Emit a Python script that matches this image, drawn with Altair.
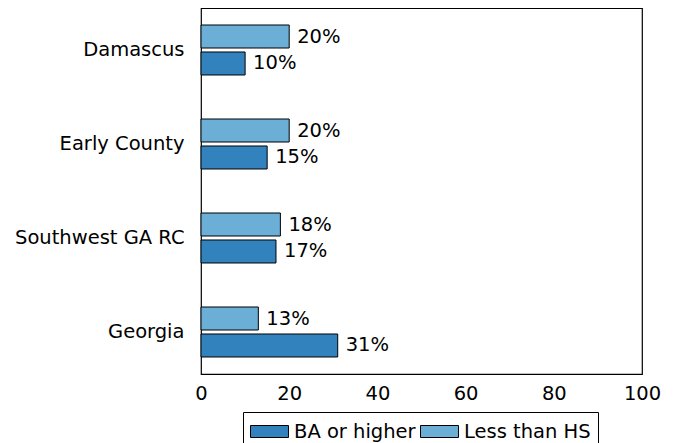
import altair as alt
import pandas as pd

regions = ["Damascus", "Early County", "Southwest GA RC", "Georgia"]
ba_or_higher = [10, 15, 17, 31]
less_than_hs = [20, 20, 18, 13]
series = ["BA or higher", "Less than HS"]
colors = ["#3182bd", "#6baed6"]

rows = []
for r, b, l in zip(regions, ba_or_higher, less_than_hs):
    rows.append({"region": r, "series": series[0], "value": b})
    rows.append({"region": r, "series": series[1], "value": l})
df = pd.DataFrame(rows)

FONT = "DejaVu Sans"
FS = 19.5

y_enc = alt.Y("region:N", sort=regions,
              scale=alt.Scale(range=[-5, 371], paddingInner=0, paddingOuter=0),
              axis=alt.Axis(title=None, ticks=False, domain=False, labelPadding=17,
                            labelFontSize=FS, labelColor="black", labelFont=FONT))
yoff_enc = alt.YOffset("series:N", sort=["Less than HS", "BA or higher"],
                       scale=alt.Scale(paddingInner=0.148, paddingOuter=0.815))
x_enc = alt.X("value:Q", scale=alt.Scale(domain=[0, 100], nice=False),
              axis=alt.Axis(title=None, values=[0, 20, 40, 60, 80, 100], grid=False,
                            ticks=False, domain=False, labelPadding=10,
                            labelFontSize=FS, labelColor="black", labelFont=FONT,
                            labelFlush=False))

sym_path = "M-1.583,-0.5L1.583,-0.5L1.583,0.5L-1.583,0.5Z"

bars = alt.Chart(df).mark_bar(stroke="black", strokeWidth=1).encode(
    x=x_enc,
    y=y_enc,
    yOffset=yoff_enc,
    color=alt.Color("series:N", sort=series,
                    scale=alt.Scale(domain=series, range=colors),
                    legend=alt.Legend(title=None, orient="none", legendX=42, legendY=404,
                                      direction="horizontal", columns=2,
                                      symbolType=sym_path, symbolSize=576,
                                      symbolStrokeColor="black", symbolStrokeWidth=1,
                                      symbolOffset=7, labelOffset=12,
                                      columnPadding=2,
                                      labelFontSize=FS, labelFont=FONT, labelColor="black",
                                      strokeColor="black", fillColor="white", padding=7)),
)

labels = alt.Chart(df).transform_calculate(
    label="datum.value + '%'"
).mark_text(align="left", baseline="middle", dx=8, fontSize=FS, font=FONT, color="black").encode(
    x="value:Q",
    y=alt.Y("region:N", sort=regions),
    yOffset=alt.YOffset("series:N", sort=["Less than HS", "BA or higher"]),
    text="label:N",
)

chart = alt.layer(bars, labels).properties(
    width=441, height=366,
    autosize=alt.AutoSizeParams(type="none"),
    padding={"left": 193, "top": 0, "right": 20, "bottom": 69},
).configure(font=FONT).configure_view(stroke="black", strokeWidth=1.2)

chart.save("out.html", embed_options={"renderer": "svg", "actions": False})
